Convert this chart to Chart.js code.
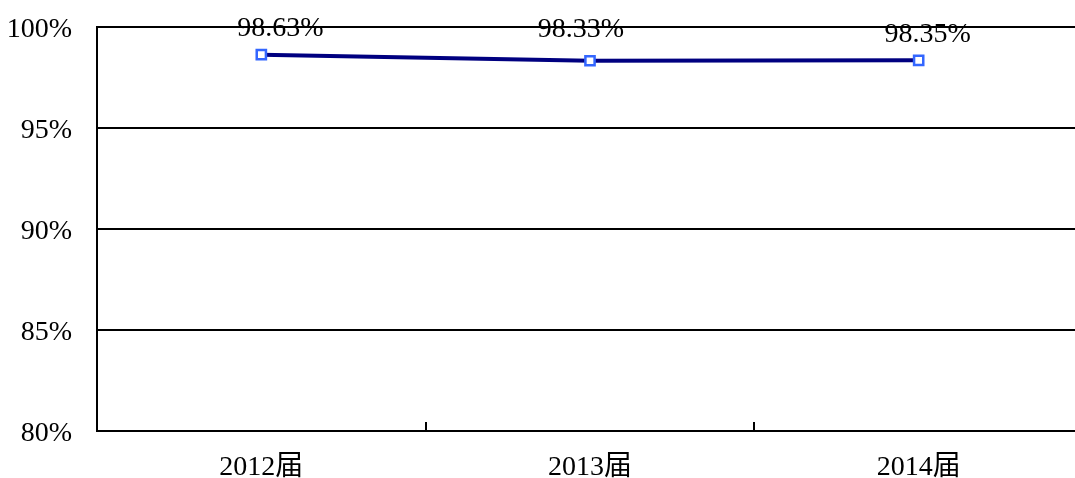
<!DOCTYPE html>
<html>
<head>
<meta charset="utf-8">
<script src="https://cdn.jsdelivr.net/npm/chart.js@4.4.0/dist/chart.umd.min.js"></script>
<style>
html,body{margin:0;padding:0;background:#fff;overflow:hidden;}
#wrap{position:relative;width:1092px;height:478px;}
</style>
</head>
<body>
<div id="wrap"><canvas id="c"></canvas></div>
<script>
const categories = ['2012届', '2013届', '2014届'];
const values = [98.63, 98.33, 98.35];
const yTicks = [80, 85, 90, 95, 100];
const labelTexts = ['98.63%', '98.33%', '98.35%'];
const labelOffsets = [[19, -26], [-9, -31], [9, -26]];

const FONT = "'Liberation Serif','Noto Sans CJK SC',serif";
const FS = 28;

const innerTicks = {
  id: 'innerTicks',
  afterDraw(chart) {
    const x = chart.scales.x, ctx = chart.ctx;
    const bottom = chart.chartArea.bottom;
    ctx.save();
    ctx.strokeStyle = '#000';
    ctx.lineWidth = 2;
    for (let i = 1; i < categories.length; i++) {
      const px = Math.round(x.getPixelForValue(i - 0.5));
      ctx.beginPath();
      ctx.moveTo(px, bottom);
      ctx.lineTo(px, bottom - 9);
      ctx.stroke();
    }
    ctx.restore();
  }
};

const dataLabels = {
  id: 'dataLabels',
  afterDatasetsDraw(chart) {
    const ctx = chart.ctx;
    const meta = chart.getDatasetMeta(0);
    ctx.save();
    ctx.font = FS + 'px ' + FONT;
    ctx.fillStyle = '#000';
    ctx.textAlign = 'center';
    ctx.textBaseline = 'middle';
    meta.data.forEach((pt, i) => {
      const o = labelOffsets[i];
      ctx.fillText(labelTexts[i], pt.x + o[0], pt.y + o[1]);
    });
    ctx.restore();
  }
};

new Chart(document.getElementById('c'), {
  type: 'line',
  data: {
    labels: categories,
    datasets: [{
      data: values,
      borderColor: '#000080',
      borderWidth: 4,
      pointStyle: 'rect',
      pointRadius: 6.5,
      pointBorderWidth: 2.5,
      pointBorderColor: '#3366ff',
      pointBackgroundColor: '#ffffff',
      tension: 0,
      clip: false
    }]
  },
  options: {
    responsive: true,
    maintainAspectRatio: false,
    animation: false,
    layout: { padding: { top: 27, right: 0, left: 0, bottom: 0 } },
    plugins: { legend: { display: false }, tooltip: { enabled: false } },
    scales: {
      x: {
        offset: true,
        grid: { drawOnChartArea: false, drawTicks: false },
        border: { display: true, color: '#000', width: 2 },
        ticks: { color: '#000', font: { family: FONT, size: FS }, padding: 20 },
        afterFit(s) { s.height = 47; s.paddingLeft = 0; s.paddingRight = 0; }
      },
      y: {
        min: 80, max: 100,
        afterBuildTicks(s) { s.ticks = yTicks.map(v => ({ value: v })); },
        grid: { color: '#000', lineWidth: 2, drawTicks: false },
        border: { display: true, color: '#000', width: 2 },
        ticks: { color: '#000', font: { family: FONT, size: FS }, padding: 25, labelOffset: 3, callback: v => v + '%' },
        afterFit(s) { s.width = 97; s.paddingTop = 0; s.paddingBottom = 0; }
      }
    }
  },
  plugins: [innerTicks, dataLabels]
});
</script>
</body>
</html>
